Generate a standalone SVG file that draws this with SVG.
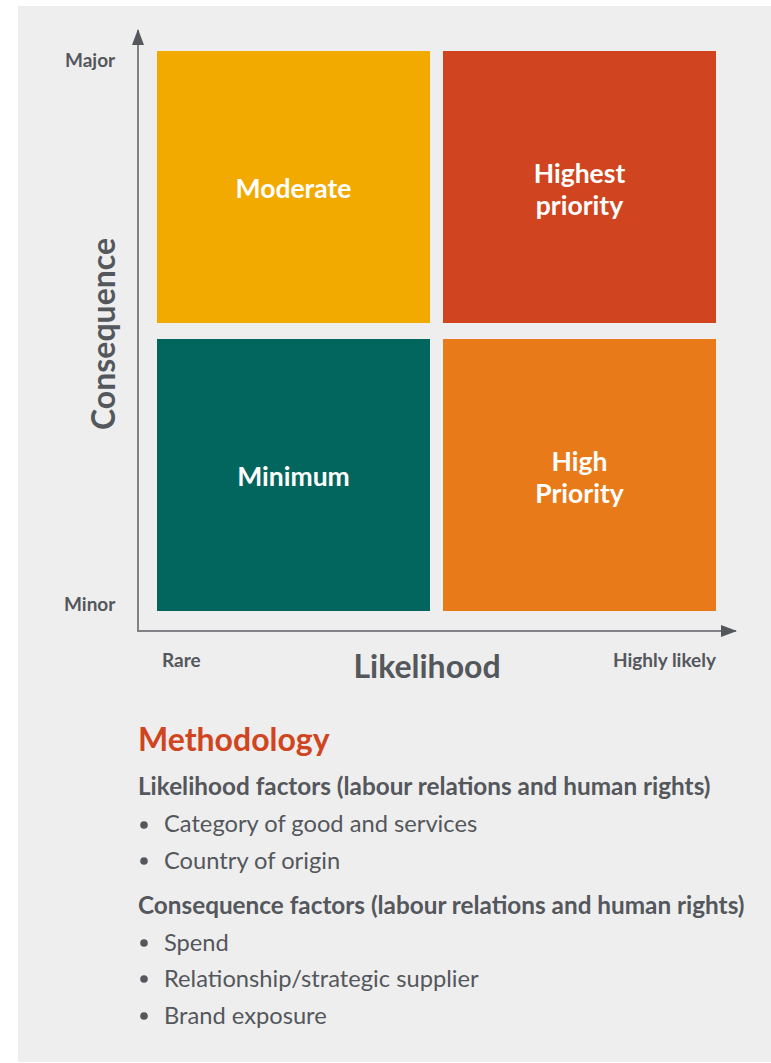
<svg xmlns="http://www.w3.org/2000/svg" width="771" height="1063" viewBox="0 0 771 1063">
<style>
text{font-family:Lato,"Open Sans","Liberation Sans",sans-serif}
.cell{font-size:26.5px;font-weight:700;fill:#ffffff;text-anchor:middle}
.ax{font-size:19px;font-weight:700;fill:#54575c}
.big{font-size:32px;font-weight:700;fill:#54575c}
.h2{font-size:24.3px;font-weight:700;fill:#54575c}
.li{font-size:23.7px;fill:#54575c}
.axis{stroke:#808285;stroke-width:2;fill:none}
</style>
<defs>
<marker id="arr" markerWidth="16" markerHeight="12" refX="15" refY="6" orient="auto" markerUnits="userSpaceOnUse">
<path d="M0,0 L16,6 L0,12 Z" fill="#54575c"/>
</marker>
</defs>
<rect x="0" y="0" width="771" height="1063" fill="#ffffff"/>
<rect x="18" y="6" width="753" height="1056" fill="#eeeeee"/>
<g id="connectors">
<path class="axis" d="M138,631 L138,30" marker-end="url(#arr)"/>
<path class="axis" d="M137,631 L736,631" marker-end="url(#arr)"/>
</g>
<g id="moderate">
<rect x="157" y="51" width="273" height="272" fill="#f2a900"/>
<text class="cell" x="293.5" y="198">Moderate</text>
</g>
<g id="highest-priority">
<rect x="443" y="51" width="273" height="272" fill="#d04520"/>
<text class="cell" x="579.5" y="182.5">Highest</text>
<text class="cell" x="579.5" y="214.5">priority</text>
</g>
<g id="minimum">
<rect x="157" y="339" width="273" height="272" fill="#03665e"/>
<text class="cell" x="293.5" y="486">Minimum</text>
</g>
<g id="high-priority">
<rect x="443" y="339" width="273" height="272" fill="#e87a19"/>
<text class="cell" x="579.5" y="470.5">High</text>
<text class="cell" x="579.5" y="502.5">Priority</text>
</g>
<g id="axis-labels">
<text class="ax" x="65" y="67">Major</text>
<text class="ax" x="64" y="611">Minor</text>
<text class="ax" x="162" y="667">Rare</text>
<text class="ax" x="716" y="667" text-anchor="end">Highly likely</text>
<text class="big" x="427" y="678" text-anchor="middle">Likelihood</text>
<text class="big" transform="translate(115,334) rotate(-90)" text-anchor="middle">Consequence</text>
</g>
<g id="methodology">
<text x="138" y="751" font-size="32" font-weight="700" fill="#d04520">Methodology</text>
<text class="h2" x="138" y="795">Likelihood factors (labour relations and human rights)</text>
<circle cx="144" cy="825" r="3.8" fill="#54575c"/>
<text class="li" x="164" y="832">Category of good and services</text>
<circle cx="144" cy="861" r="3.8" fill="#54575c"/>
<text class="li" x="164" y="869">Country of origin</text>
<text class="h2" x="138" y="914">Consequence factors (labour relations and human rights)</text>
<circle cx="144" cy="943" r="3.8" fill="#54575c"/>
<text class="li" x="164" y="951">Spend</text>
<circle cx="144" cy="979" r="3.8" fill="#54575c"/>
<text class="li" x="164" y="987">Relationship/strategic supplier</text>
<circle cx="144" cy="1016" r="3.8" fill="#54575c"/>
<text class="li" x="164" y="1024">Brand exposure</text>
</g>
</svg>
